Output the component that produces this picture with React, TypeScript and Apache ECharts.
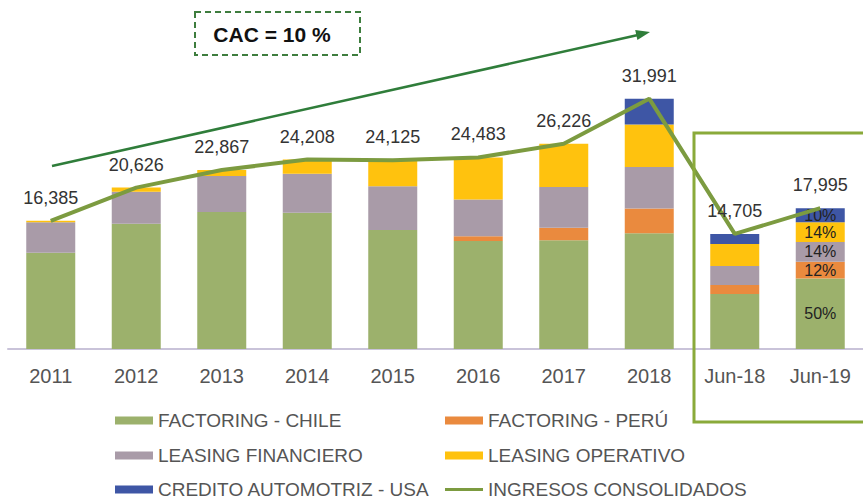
import React, { useEffect, useRef } from "react";
import * as echarts from "echarts";

const categories = ["2011", "2012", "2013", "2014", "2015", "2016", "2017", "2018", "Jun-18", "Jun-19"];
const factoringChile = [12300, 16000, 17500, 17400, 15200, 13800, 13900, 14800, 7040, 8998];
const factoringPeru = [0, 0, 0, 0, 0, 600, 1600, 3150, 1150, 2159];
const leasingFinanciero = [3900, 4100, 4600, 5000, 5600, 4700, 5200, 5300, 2430, 2519];
const leasingOperativo = [185, 526, 767, 1808, 3325, 5383, 5526, 5450, 2800, 2519];
const creditoAutomotriz = [0, 0, 0, 0, 0, 0, 0, 3291, 1285, 1800];
const ingresosConsolidados = [16385, 20626, 22867, 24208, 24125, 24483, 26226, 31991, 14705, 17995];
const jun19Pct = ["50%", "12%", "14%", "14%", "10%"];

const FONT = "Liberation Sans";

export default function App() {
  const ref = useRef<HTMLDivElement>(null);
  useEffect(() => {
    if (!ref.current) return;
    const chart = echarts.init(ref.current, null, { renderer: "svg" });
    const barDefs = [
      { name: "FACTORING - CHILE", data: factoringChile, color: "#9cb16c" },
      { name: "FACTORING - PERÚ", data: factoringPeru, color: "#ea8a3e" },
      { name: "LEASING FINANCIERO", data: leasingFinanciero, color: "#a99ba8" },
      { name: "LEASING OPERATIVO", data: leasingOperativo, color: "#ffc20e" },
      { name: "CREDITO AUTOMOTRIZ - USA", data: creditoAutomotriz, color: "#3e56a5" },
    ];
    const last = categories.length - 1;
    const barSeries = barDefs.map((d, si) => ({
      name: d.name,
      type: "bar",
      stack: "total",
      barWidth: 49,
      itemStyle: { color: d.color },
      data: d.data.map((v, i) =>
        i === last
          ? {
              value: v,
              label: {
                show: true,
                position: "inside",
                formatter: jun19Pct[si],
                color: "#222",
                fontSize: 16,
                fontFamily: FONT,
              },
            }
          : v
      ),
    }));
    const legendText = { color: "#555", fontSize: 19, fontFamily: FONT };
    const mkLegend = (name: string, left: number, top: number, isLine = false) => ({
      data: [name],
      left,
      top,
      padding: 0,
      itemWidth: 38,
      itemHeight: isLine ? 3 : 8,
      icon: "rect",
      textStyle: legendText,
      selectedMode: false,
    });
    chart.setOption({
      animation: false,
      backgroundColor: "#ffffff",
      textStyle: { fontFamily: FONT },
      grid: { left: 8, width: 860, top: 36, bottom: 151 },
      xAxis: {
        type: "category",
        data: categories,
        axisLine: { lineStyle: { color: "#c9c3d9", width: 2 } },
        axisTick: { show: false },
        axisLabel: { color: "#555", fontSize: 20, margin: 17, fontFamily: FONT },
      },
      yAxis: { type: "value", min: 0, max: 40000, show: false, splitLine: { show: false } },
      legend: [
        mkLegend("FACTORING - CHILE", 115, 411),
        mkLegend("FACTORING - PERÚ", 445, 411),
        mkLegend("LEASING FINANCIERO", 115, 446),
        mkLegend("LEASING OPERATIVO", 445, 446),
        mkLegend("CREDITO AUTOMOTRIZ - USA", 115, 480),
        mkLegend("INGRESOS CONSOLIDADOS", 445, 480, true),
      ],
      series: [
        ...barSeries,
        {
          name: "INGRESOS CONSOLIDADOS",
          type: "line",
          data: ingresosConsolidados,
          symbol: "circle",
          symbolSize: 0.1,
          showSymbol: true,
          z: 5,
          lineStyle: { color: "#7c9b40", width: 4 },
          itemStyle: { color: "#7c9b40" },
          label: {
            show: true,
            position: "top",
            distance: 14,
            color: "#333",
            fontSize: 18,
            fontFamily: FONT,
            formatter: (p: any) => Number(p.value).toLocaleString("en-US"),
          },
        },
      ],
      graphic: [
        {
          type: "line",
          shape: { x1: 52, y1: 166, x2: 638, y2: 35 },
          style: { stroke: "#2f7d3a", lineWidth: 2.5 },
        },
        {
          type: "polygon",
          shape: { points: [[650, 32], [637.4, 39.9], [635.2, 30.1]] },
          style: { fill: "#2f7d3a" },
        },
        {
          type: "rect",
          shape: { x: 195, y: 12, width: 165, height: 43 },
          style: { fill: "none", stroke: "#3e7d3e", lineWidth: 2, lineDash: [6, 4] },
        },
        {
          type: "text",
          x: 272,
          y: 34,
          style: {
            text: "CAC = 10 %",
            fontSize: 21,
            fontWeight: "bold",
            fontFamily: FONT,
            fill: "#111",
            align: "center",
            verticalAlign: "middle",
          },
        },
        {
          type: "rect",
          shape: { x: 694, y: 133, width: 180, height: 289 },
          style: { fill: "none", stroke: "#8aaa3a", lineWidth: 3 },
          z: 10,
        },
      ],
    });
    return () => chart.dispose();
  }, []);
  return <div ref={ref} style={{ position: "fixed", left: 0, top: 0, width: 863, height: 500 }} />;
}
